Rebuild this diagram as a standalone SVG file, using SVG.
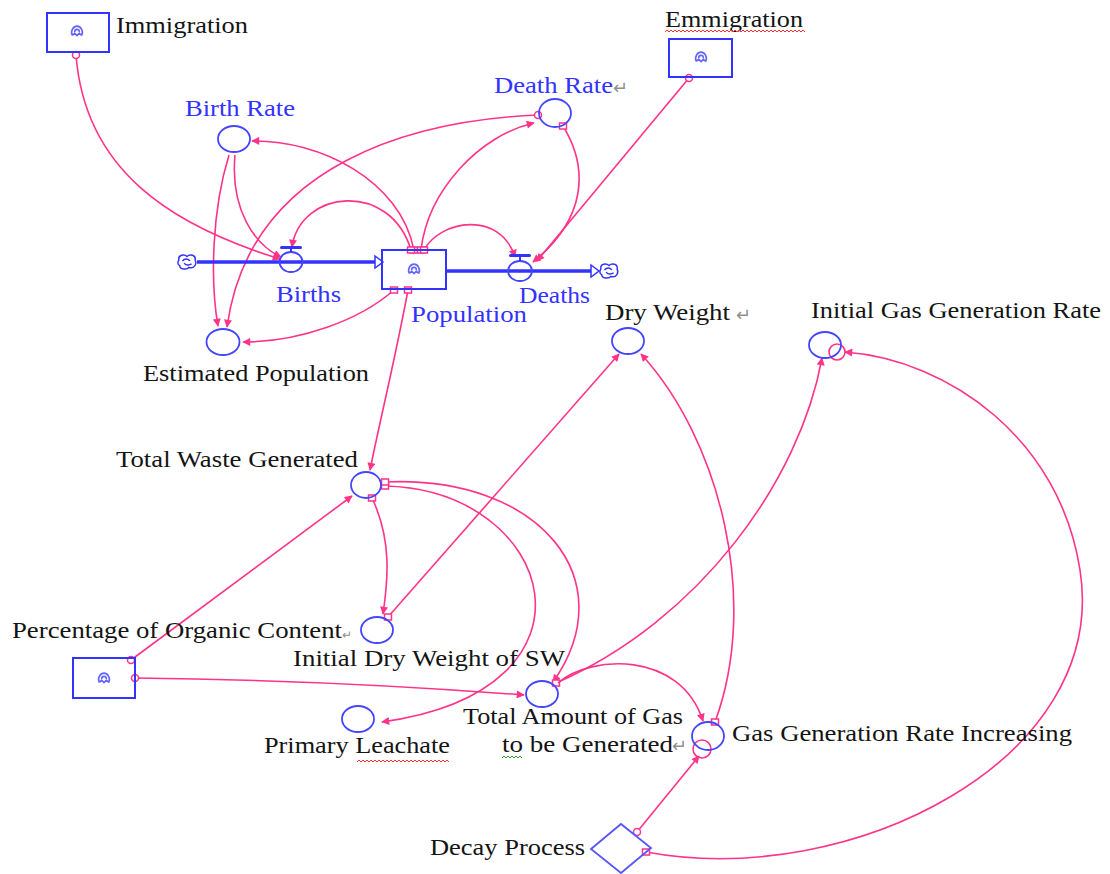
<svg xmlns="http://www.w3.org/2000/svg" xmlns:xlink="http://www.w3.org/1999/xlink" width="1110" height="874" viewBox="0 0 1110 874">
<style>
.lbl{font-family:"Liberation Serif","Times New Roman",serif;font-size:24px;fill:#141414}
.blu{fill:#3333ff}
.rt{fill:#909090;font-size:18px}
.box{fill:none;stroke:#3333ff;stroke-width:2}
.aux{fill:none;stroke:#4545ff;stroke-width:1.8}
.pipe{fill:none;stroke:#3333ff;stroke-width:3.5}
.ln{fill:none;stroke:#ff3388;stroke-width:1.6}
</style>
<defs>
<marker id="ah" viewBox="0 0 10 10" refX="9" refY="5" markerWidth="10" markerHeight="8" markerUnits="userSpaceOnUse" orient="auto"><path d="M0,0 L10,5 L0,10 Z" fill="#ff3388"/></marker>
<marker id="sc" viewBox="-5 -5 10 10" refX="0" refY="0" markerWidth="10" markerHeight="10" markerUnits="userSpaceOnUse"><circle r="3.5" fill="#fff" stroke="#ff3388" stroke-width="1.5"/></marker>
<marker id="ss" viewBox="-5 -5 10 10" refX="0" refY="0" markerWidth="10" markerHeight="10" markerUnits="userSpaceOnUse"><rect x="-3.5" y="-3" width="7" height="6" fill="#fff" stroke="#ff3388" stroke-width="1.5"/></marker>
<symbol id="ico" viewBox="-6 -6 12 12" overflow="visible"><path d="M-4,3 C-6,-1 -3,-5 0,-5 C3,-5 6,-1 4,3 M-4,3 L-2,1 L0,3 L2,1 L4,3 M-2,0 C-2,-3 2,-3 2,0" fill="none" stroke="#6666ff" stroke-width="1.4"/></symbol>
<symbol id="cloud" viewBox="-11 -9 22 18" overflow="visible"><path d="M-9,-2 C-10,-8 -3,-9 0,-6 C3,-9 10,-8 9,-2 C11,2 8,8 2,6 C0,9 -8,8 -8,4 C-11,3 -10,-1 -9,-2 Z M-5,-1 C-3,-4 2,-4 3,-1 M5,2 C3,4 -2,4 -3,1" fill="#fff" stroke="#3333ff" stroke-width="1.6"/></symbol>
</defs>
<rect width="1110" height="874" fill="#fff"/>

<g id="connectors">
<path class="ln" marker-start="url(#sc)" marker-end="url(#ah)" d="M76,55 C85,170 170,225 280,259"/>
<path class="ln" marker-end="url(#ah)" d="M235,155 C230,210 255,245 281,257"/>
<path class="ln" marker-end="url(#ah)" d="M229,155 C212,210 210,280 218,326"/>
<path class="ln" marker-start="url(#sc)" marker-end="url(#ah)" d="M538,115 C420,120 250,160 227,327"/>
<path class="ln" marker-start="url(#ss)" marker-end="url(#ah)" d="M414,250 C400,180 320,140 252,141"/>
<path class="ln" marker-start="url(#ss)" marker-end="url(#ah)" d="M411,250 C390,180 300,190 292,247"/>
<path class="ln" marker-start="url(#ss)" marker-end="url(#ah)" d="M421,250 C428,190 480,135 534,123"/>
<path class="ln" marker-start="url(#ss)" marker-end="url(#ah)" d="M424,250 C440,220 500,210 515,257"/>
<path class="ln" marker-start="url(#ss)" marker-end="url(#ah)" d="M563,126 C590,170 585,220 533,262"/>
<path class="ln" marker-start="url(#sc)" marker-end="url(#ah)" d="M689,78 L537,261"/>
<path class="ln" marker-start="url(#ss)" marker-end="url(#ah)" d="M394,290 C360,320 300,342 243,342"/>
<path class="ln" marker-start="url(#ss)" marker-end="url(#ah)" d="M408,290 C395,360 380,420 370,470"/>
<path class="ln" marker-start="url(#ss)" marker-end="url(#ah)" d="M372,498 C392,540 388,580 383,614"/>
<path class="ln" marker-start="url(#ss)" marker-end="url(#ah)" d="M388,617 L619,354"/>
<path class="ln" marker-start="url(#ss)" marker-end="url(#ah)" d="M715,722 C760,600 720,440 641,354"/>
<path class="ln" marker-start="url(#sc)" marker-end="url(#ah)" d="M131,660 L352,496"/>
<path class="ln" marker-start="url(#sc)" marker-end="url(#ah)" d="M135,678 Q330,680 524,695"/>
<path class="ln" marker-start="url(#ss)" marker-end="url(#ah)" d="M385,486 C555,490 615,690 382,722"/>
<path class="ln" marker-start="url(#ss)" marker-end="url(#ah)" d="M385,482 C540,475 625,580 553,682"/>
<path class="ln" marker-start="url(#ss)" marker-end="url(#ah)" d="M556,683 C700,620 800,480 822,358"/>
<path class="ln" marker-end="url(#ah)" d="M558,683 C590,655 680,650 703,721"/>
<path class="ln" marker-start="url(#sc)" marker-end="url(#ah)" d="M637,832 L699,756"/>
<path class="ln" marker-start="url(#ss)" marker-end="url(#ah)" d="M646,852 C850,890 1110,760 1080,570 C1060,440 950,360 845,352"/>
<circle cx="837" cy="352" r="8" class="ln"/>
<circle cx="702" cy="749" r="9" class="ln"/>
</g>

<g id="immigration">
<rect class="box" x="47" y="13" width="62" height="39"/>
<use href="#ico" x="70" y="25" width="14" height="14"/>
<text class="lbl" x="116" y="33" textLength="132" lengthAdjust="spacingAndGlyphs">Immigration</text>
</g>

<g id="emmigration">
<rect class="box" x="669" y="39" width="63" height="38"/>
<use href="#ico" x="694" y="51" width="14" height="14"/>
<text class="lbl" x="665" y="27" textLength="138" lengthAdjust="spacingAndGlyphs">Emmigration</text>
<path d="M665,32 l2,-2 l2,2 l2,-2 l2,2 l2,-2 l2,2 l2,-2 l2,2 l2,-2 l2,2 l2,-2 l2,2 l2,-2 l2,2 l2,-2 l2,2 l2,-2 l2,2 l2,-2 l2,2 l2,-2 l2,2 l2,-2 l2,2 l2,-2 l2,2 l2,-2 l2,2 l2,-2 l2,2 l2,-2 l2,2 l2,-2 l2,2 l2,-2 l2,2 l2,-2 l2,2 l2,-2 l2,2 l2,-2 l2,2 l2,-2 l2,2 l2,-2 l2,2 l2,-2 l2,2 l2,-2 l2,2 l2,-2 l2,2 l2,-2 l2,2 l2,-2 l2,2 l2,-2 l2,2 l2,-2 l2,2 l2,-2 l2,2 l2,-2 l2,2 l2,-2 l2,2 l2,-2 l2,2 l2,-2 l2,2" fill="none" stroke="#ff3030" stroke-width="1"/>
</g>

<g id="birth-rate">
<ellipse class="aux" cx="234" cy="139" rx="16" ry="13"/>
<text class="lbl blu" x="185" y="116" textLength="110" lengthAdjust="spacingAndGlyphs">Birth Rate</text>
</g>

<g id="death-rate">
<ellipse class="aux" cx="555" cy="113" rx="16" ry="14"/>
<text class="lbl blu" x="494" y="93" textLength="119" lengthAdjust="spacingAndGlyphs">Death Rate</text>
<text class="lbl rt" x="613" y="94">↵</text>
</g>

<g id="births">
<use href="#cloud" x="177" y="253" width="20" height="18"/>
<path class="pipe" d="M197,262 L375,262"/>
<path d="M375,256 L383,262 L375,268 Z" fill="#fff" stroke="#3333ff" stroke-width="1.5"/>
<ellipse class="aux" cx="291" cy="262" rx="11.5" ry="10" fill="#fff"/>
<path d="M291,252 L291,248" stroke="#3333ff" stroke-width="2"/>
<rect x="280" y="246" width="22" height="3" rx="1.5" fill="#3333ff"/>
<text class="lbl blu" x="276" y="302" textLength="65" lengthAdjust="spacingAndGlyphs">Births</text>
</g>

<g id="population">
<rect class="box" x="382" y="250" width="64" height="39" fill="#fff"/>
<use href="#ico" x="407" y="263" width="14" height="14"/>
<text class="lbl blu" x="411" y="322" textLength="116" lengthAdjust="spacingAndGlyphs">Population</text>
</g>

<g id="deaths">
<path class="pipe" d="M446,271 L592,271"/>
<path d="M591,265 L599,271 L591,277 Z" fill="#fff" stroke="#3333ff" stroke-width="1.5"/>
<use href="#cloud" x="599" y="262" width="20" height="18"/>
<ellipse class="aux" cx="520" cy="271" rx="12" ry="10" fill="#fff"/>
<path d="M520,261 L520,257" stroke="#3333ff" stroke-width="2"/>
<rect x="509" y="254" width="22" height="3" rx="1.5" fill="#3333ff"/>
<text class="lbl blu" x="519" y="303" textLength="71" lengthAdjust="spacingAndGlyphs">Deaths</text>
</g>

<g id="estimated-population">
<ellipse class="aux" cx="223" cy="342" rx="16.5" ry="13"/>
<text class="lbl" x="143" y="381" textLength="226" lengthAdjust="spacingAndGlyphs">Estimated Population</text>
</g>

<g id="dry-weight">
<ellipse class="aux" cx="628" cy="341" rx="16" ry="13"/>
<text class="lbl" x="605" y="320" textLength="125" lengthAdjust="spacingAndGlyphs">Dry Weight</text>
<text class="lbl rt" x="736" y="321">↵</text>
</g>

<g id="initial-gas-generation-rate">
<ellipse class="aux" cx="825" cy="345" rx="16" ry="13"/>
<text class="lbl" x="811" y="318" textLength="290" lengthAdjust="spacingAndGlyphs">Initial Gas Generation Rate</text>
</g>

<g id="total-waste-generated">
<ellipse class="aux" cx="366" cy="485" rx="15" ry="13"/>
<text class="lbl" x="116" y="467" textLength="242" lengthAdjust="spacingAndGlyphs">Total Waste Generated</text>
</g>

<g id="initial-dry-weight">
<ellipse class="aux" cx="377" cy="630" rx="16" ry="13"/>
<text class="lbl" x="293" y="666" textLength="272" lengthAdjust="spacingAndGlyphs">Initial Dry Weight of SW</text>
</g>

<g id="percentage-organic">
<rect class="box" x="73" y="658" width="62" height="40"/>
<use href="#ico" x="97" y="672" width="14" height="14"/>
<text class="lbl" x="12" y="638" textLength="330" lengthAdjust="spacingAndGlyphs">Percentage of Organic Content</text>
<text class="lbl rt" x="342" y="639" style="font-size:12px">↵</text>
</g>

<g id="primary-leachate">
<ellipse class="aux" cx="358" cy="719" rx="16" ry="13"/>
<text class="lbl" x="264" y="753" textLength="186" lengthAdjust="spacingAndGlyphs">Primary Leachate</text>
<path d="M357,762 l2,-2 l2,2 l2,-2 l2,2 l2,-2 l2,2 l2,-2 l2,2 l2,-2 l2,2 l2,-2 l2,2 l2,-2 l2,2 l2,-2 l2,2 l2,-2 l2,2 l2,-2 l2,2 l2,-2 l2,2 l2,-2 l2,2 l2,-2 l2,2 l2,-2 l2,2 l2,-2 l2,2 l2,-2 l2,2 l2,-2 l2,2 l2,-2 l2,2 l2,-2 l2,2 l2,-2 l2,2 l2,-2 l2,2 l2,-2 l2,2 l2,-2 l2,2" fill="none" stroke="#ff3030" stroke-width="1"/>
</g>

<g id="total-amount-of-gas">
<ellipse class="aux" cx="542" cy="694" rx="16" ry="13"/>
<text class="lbl" x="463" y="724" textLength="220" lengthAdjust="spacingAndGlyphs">Total Amount of Gas</text>
<text class="lbl" x="502" y="752" textLength="171" lengthAdjust="spacingAndGlyphs">to be Generated</text>
<text class="lbl rt" x="672" y="752">↵</text>
<path d="M502,758 l2,-2 l2,2 l2,-2 l2,2 l2,-2 l2,2 l2,-2 l2,2 l2,-2 l2,2" fill="none" stroke="#30a030" stroke-width="1"/>
</g>

<g id="gas-generation-rate-increasing">
<ellipse class="aux" cx="708" cy="736" rx="16" ry="14"/>
<text class="lbl" x="732" y="741" textLength="340" lengthAdjust="spacingAndGlyphs">Gas Generation Rate Increasing</text>
</g>

<g id="decay-process">
<path d="M591,849 L621,824 L651,848 L621,873 Z" fill="none" stroke="#5555ff" stroke-width="1.8"/>
<text class="lbl" x="430" y="855" textLength="155" lengthAdjust="spacingAndGlyphs">Decay Process</text>
</g>
</svg>
